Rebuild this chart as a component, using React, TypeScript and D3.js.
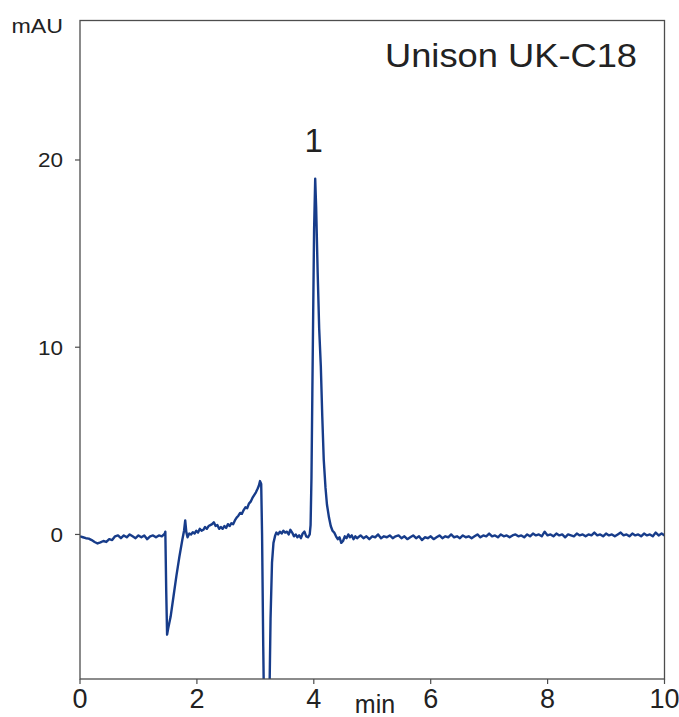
import React from "react";
import * as d3 from "d3";

const W = 679;
const H = 717;

// Chromatogram trace (time in min, absorbance in mAU)
const times: number[] = [
  0.0, 0.05, 0.1, 0.15, 0.2, 0.25, 0.3, 0.35, 0.4, 0.45, 0.5, 0.55, 0.6, 0.65, 0.7, 0.75, 0.8, 0.85, 0.9, 0.95,
  1.0, 1.05, 1.1, 1.15, 1.2, 1.25, 1.3, 1.35, 1.4, 1.45,
  1.46, 1.475, 1.49, 1.51, 1.55, 1.6, 1.65, 1.7, 1.75, 1.78, 1.8, 1.82,
  1.84, 1.87, 1.9, 1.93, 1.96, 1.99, 2.02, 2.05, 2.08, 2.11, 2.14, 2.17, 2.2, 2.23, 2.26, 2.29, 2.32, 2.35,
  2.38, 2.41, 2.44, 2.47, 2.5, 2.53, 2.56, 2.59, 2.62, 2.65, 2.68, 2.71, 2.74, 2.77, 2.8, 2.83, 2.86, 2.89,
  2.92, 2.95, 2.98, 3.01, 3.04, 3.06, 3.08, 3.1,
  3.115, 3.135, 3.16, 3.2, 3.235, 3.26, 3.285, 3.31, 3.34, 3.36,
  3.39, 3.42, 3.45, 3.48, 3.51, 3.54, 3.57, 3.6, 3.63, 3.66, 3.69, 3.72, 3.75, 3.78, 3.81, 3.84, 3.87, 3.9, 3.93, 3.945,
  3.96, 3.975, 3.99, 4.005, 4.024, 4.04, 4.066, 4.092, 4.12, 4.145, 4.17, 4.2, 4.225, 4.26, 4.29, 4.32, 4.35, 4.38,
  4.41, 4.44, 4.47, 4.5, 4.53, 4.56, 4.59, 4.62, 4.65, 4.68, 4.71, 4.74,
  4.8, 4.85, 4.9, 4.95, 5.0, 5.05, 5.1, 5.15, 5.2, 5.25, 5.3, 5.35, 5.4, 5.45, 5.5, 5.55, 5.6, 5.65, 5.7, 5.75,
  5.8, 5.85, 5.9, 5.95, 6.0, 6.05, 6.1, 6.15, 6.2, 6.25, 6.3, 6.35, 6.4, 6.45, 6.5, 6.55, 6.6, 6.65, 6.7, 6.75,
  6.8, 6.85, 6.9, 6.95, 7.0, 7.05, 7.1, 7.15, 7.2, 7.25, 7.3, 7.35, 7.4, 7.45, 7.5, 7.55, 7.6, 7.65, 7.7, 7.75,
  7.8, 7.85, 7.9, 7.95, 8.0, 8.05, 8.1, 8.15, 8.2, 8.25, 8.3, 8.35, 8.4, 8.45, 8.5, 8.55, 8.6, 8.65, 8.7, 8.75,
  8.8, 8.85, 8.9, 8.95, 9.0, 9.05, 9.1, 9.15, 9.2, 9.25, 9.3, 9.35, 9.4, 9.45, 9.5, 9.55, 9.6, 9.65, 9.7, 9.75,
  9.8, 9.85, 9.9, 9.95, 10.0,
];

const signal: number[] = [
  -0.1, -0.15, -0.2, -0.22, -0.3, -0.4, -0.48, -0.42, -0.35, -0.4, -0.25, -0.3, -0.1, -0.05, -0.2, -0.05, -0.15, 0.0, -0.1, -0.2,
  -0.05, -0.15, -0.05, -0.25, -0.1, -0.05, -0.15, -0.05, -0.1, 0.05,
  0.15, -3.0, -5.35, -5.0, -4.4, -3.3, -2.2, -1.2, -0.3, 0.2, 0.75, 0.1,
  -0.15, 0.05, 0.0, 0.12, 0.05, 0.2, 0.1, 0.3, 0.2, 0.25, 0.4, 0.3, 0.45, 0.5, 0.55, 0.65, 0.45, 0.5,
  0.3, 0.4, 0.3, 0.45, 0.35, 0.55, 0.45, 0.6, 0.55, 0.75, 0.9, 1.0, 1.15, 1.1, 1.3, 1.45, 1.4, 1.65,
  1.75, 1.95, 2.1, 2.25, 2.45, 2.6, 2.85, 2.7,
  0.0, -6.0, -12.0, -13.5, -10.0, -4.5, -1.5, -0.45, -0.05, 0.1,
  0.0, 0.15, 0.05, 0.2, 0.1, 0.15, 0.0, 0.25, 0.1, -0.1, 0.0, -0.15, -0.05, -0.2, 0.05, 0.15, -0.1, -0.15, 0.0, 0.5,
  3.0, 7.5, 12.0, 16.3, 19.0, 17.5, 14.0, 11.0, 9.0, 6.3, 4.0, 2.5, 1.6, 0.9, 0.45, 0.2, 0.1, -0.1,
  -0.25, -0.15, -0.45, -0.35, -0.1, -0.2, 0.0, -0.15, -0.05, -0.25, -0.1, -0.2,
  -0.05, -0.2, -0.1, -0.25, -0.1, -0.15, 0.0, -0.2, -0.1, -0.15, -0.05, -0.2, -0.1, -0.05, -0.2, -0.1, -0.25, -0.15, -0.05, -0.2,
  -0.1, -0.3, -0.15, -0.2, -0.1, -0.25, -0.15, -0.05, -0.2, -0.1, -0.15, 0.0, -0.15, -0.1, -0.2, -0.05, -0.15, -0.1, -0.2, -0.1,
  0.0, -0.15, -0.05, -0.1, 0.05, -0.1, -0.05, -0.15, 0.0, -0.1, -0.05, -0.15, -0.05, 0.0, -0.1, -0.05, -0.15, 0.0, -0.1, 0.05,
  -0.05, 0.0, -0.1, 0.15, -0.05, 0.0, -0.1, 0.05, -0.05, 0.0, -0.15, 0.0, -0.05, -0.1, 0.05, -0.05, 0.0, -0.1, 0.0, -0.05,
  0.1, -0.05, 0.0, -0.1, 0.05, -0.05, 0.0, -0.1, 0.0, 0.1, -0.05, 0.0, -0.1, 0.05, -0.05, 0.0, -0.1, 0.05, -0.05, 0.0,
  -0.1, 0.1, -0.05, 0.05, -0.05,
];

const xTicks: number[] = [0, 2, 4, 6, 8, 10];
const yTicks: number[] = [0, 10, 20];
const xDomain: [number, number] = [0, 10];
const yDomain: [number, number] = [-7.72, 27.45];

const peakLabels = [{ t: 4.024, v: 19.0, label: "1" }];
const titleText = "Unison UK-C18";
const yUnit = "mAU";
const xUnit = "min";

export default function App() {
  const left = 80;
  const right = 664.5;
  const top = 20.5;
  const bottom = 679;

  const x = d3.scaleLinear().domain(xDomain).range([left, right]);
  const y = d3.scaleLinear().domain(yDomain).range([bottom, top]);

  const pts: [number, number][] = times.map((t, i) => [t, signal[i]]);
  const line = d3
    .line<[number, number]>()
    .x((d) => x(d[0]))
    .y((d) => y(d[1]))
    .curve(d3.curveLinear);

  const axisColor = "#4d4d4d";
  const font = "'Liberation Sans', Arial, Helvetica, sans-serif";

  return (
    <svg
      width={W}
      height={H}
      style={{ position: "absolute", left: 0, top: 0, background: "#fff" }}
    >
      <defs>
        <clipPath id="plotClip">
          <rect x={left} y={top} width={right - left} height={bottom - top} />
        </clipPath>
      </defs>
      <rect x={0} y={0} width={W} height={H} fill="#fff" />

      {/* trace */}
      <path
        d={line(pts) || ""}
        fill="none"
        stroke="#173c8a"
        strokeWidth={2.4}
        strokeLinejoin="round"
        clipPath="url(#plotClip)"
      />

      {/* frame */}
      <rect
        x={left}
        y={top}
        width={right - left}
        height={bottom - top}
        fill="none"
        stroke={axisColor}
        strokeWidth={1.3}
      />

      {/* y ticks */}
      {yTicks.map((v) => (
        <g key={"y" + v}>
          <line x1={left - 5} x2={left} y1={y(v)} y2={y(v)} stroke={axisColor} strokeWidth={1.2} />
          <text
            x={63}
            y={y(v) + 7.5}
            textAnchor="end"
            fontFamily={font}
            fontSize={21}
            fill="#222"
            textLength={String(v).length * 12.5}
            lengthAdjust="spacingAndGlyphs"
          >
            {v}
          </text>
        </g>
      ))}

      {/* x ticks */}
      {xTicks.map((v) => (
        <g key={"x" + v}>
          <line x1={x(v)} x2={x(v)} y1={bottom} y2={bottom + 5} stroke={axisColor} strokeWidth={1.2} />
          <text
            x={x(v)}
            y={708}
            textAnchor="middle"
            fontFamily={font}
            fontSize={27}
            fill="#222"
          >
            {v}
          </text>
        </g>
      ))}

      {/* axis unit labels */}
      <text
        x={11.5}
        y={33.3}
        fontFamily={font}
        fontSize={19.5}
        fill="#222"
        textLength={51.5}
        lengthAdjust="spacingAndGlyphs"
      >
        {yUnit}
      </text>
      <text x={375} y={713} textAnchor="middle" fontFamily={font} fontSize={25} fill="#222">
        {xUnit}
      </text>

      {/* title */}
      <text
        x={385}
        y={66.7}
        fontFamily={font}
        fontSize={33.5}
        fill="#222"
        textLength={252}
        lengthAdjust="spacingAndGlyphs"
      >
        {titleText}
      </text>

      {/* peak labels */}
      {peakLabels.map((p) => (
        <text
          key={p.label}
          x={x(p.t) - 1.5}
          y={152.3}
          textAnchor="middle"
          fontFamily={font}
          fontSize={33}
          fill="#222"
        >
          {p.label}
        </text>
      ))}
    </svg>
  );
}
